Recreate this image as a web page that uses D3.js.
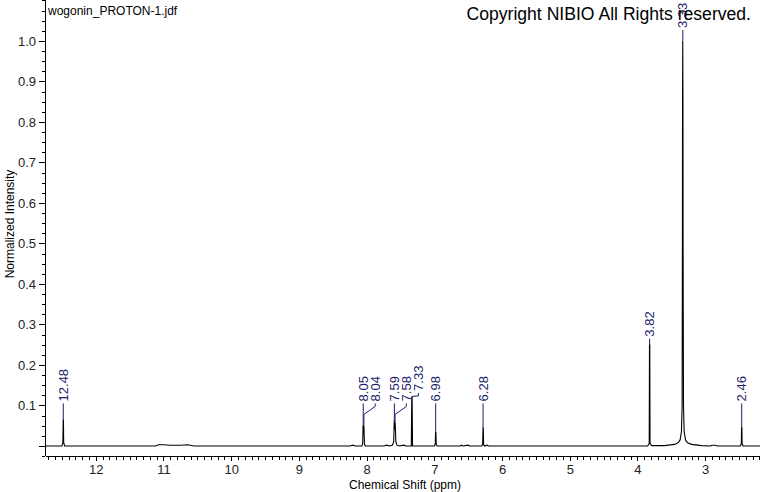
<!DOCTYPE html>
<html>
<head>
<meta charset="utf-8">
<script src="https://cdn.jsdelivr.net/npm/d3@7"></script>
<style>
  body { margin: 0; background: #fff; }
  svg { display: block; font-family: "Liberation Sans", Arial, sans-serif; }
</style>
</head>
<body>
<div id="plot"></div>
<script>
// spectrum: [ppm, normalized intensity]
var spectrum = [
    [12.75, 0], [12.50, 0], [12.486, 0.008], [12.481, 0.064], [12.478, 0.064], [12.474, 0.008], [12.46, 0],
    [11.12, 0], [11.07, 0.003], [11.0, 0.003], [10.9, 0.002], [10.75, 0.002], [10.65, 0.003], [10.6, 0.002], [10.55, 0],
    [8.25, 0], [8.2, 0.002], [8.17, 0], [8.07, 0], [8.058, 0.006], [8.052, 0.052], [8.046, 0.03], [8.040, 0.05], [8.032, 0.005], [8.02, 0],
    [7.75, 0], [7.70, 0.002], [7.66, 0], [7.62, 0.002], [7.60, 0.01], [7.592, 0.064], [7.585, 0.04], [7.578, 0.058], [7.568, 0.01], [7.55, 0.002], [7.52, 0],
    [7.45, 0.002], [7.42, 0], [7.34, 0], [7.333, 0.12], [7.328, 0.12], [7.322, 0], [7.2, 0],
    [7.0, 0], [6.986, 0.004], [6.981, 0.034], [6.977, 0.034], [6.972, 0.004], [6.96, 0],
    [6.62, 0], [6.6, 0.002], [6.58, 0], [6.5, 0.002], [6.48, 0],
    [6.30, 0], [6.286, 0.004], [6.281, 0.044], [6.277, 0.044], [6.272, 0.004], [6.26, 0], [6.22, 0.002], [6.2, 0],
    [3.85, 0], [3.826, 0.006], [3.822, 0.25], [3.818, 0.25], [3.814, 0.006], [3.79, 0.001],
    [3.6, 0.001], [3.45, 0.004], [3.4, 0.008], [3.37, 0.015], [3.35, 0.035], [3.34, 0.1],
    [3.336, 0.5], [3.334, 0.85], [3.331, 1.0], [3.328, 0.85], [3.326, 0.5], [3.32, 0.1],
    [3.31, 0.035], [3.29, 0.015], [3.26, 0.008], [3.2, 0.004], [3.05, 0.001],
    [2.92, 0], [2.9, 0.002], [2.85, 0.002], [2.82, 0],
    [2.48, 0], [2.466, 0.006], [2.462, 0.045], [2.458, 0.045], [2.454, 0.006], [2.44, 0],
    [2.19, 0]
];

// labelled peaks
var peakLabels = [12.48, 8.05, 8.04, 7.59, 7.58, 7.33, 6.98, 6.28, 3.82, 3.33, 2.46];

// axis ticks
var xMajorTicks = [12, 11, 10, 9, 8, 7, 6, 5, 4, 3];
var xMinorTicks = d3.range(127, 21, -1).map(function (v) { return v / 10; });
var yMajorTicks = [0, 0.1, 0.2, 0.3, 0.4, 0.5, 0.6, 0.7, 0.8, 0.9, 1.0];
var yMinorTicks = d3.range(-1, 45).map(function (v) { return v * 0.025; });

var fileName = "wogonin_PROTON-1.jdf";
var copyright = "Copyright NIBIO All Rights reserved.";

var W = 760, H = 492;
var ink = "#000", labelInk = "#1c1c6a";

var svg = d3.select("#plot").append("svg")
    .attr("width", W)
    .attr("height", H);

svg.append("rect").attr("width", W).attr("height", H).attr("fill", "#fff");

var x = d3.scaleLinear().domain([12.75, 2.19]).range([45, 760]);
var y = d3.scaleLinear().domain([-0.0247, 1.101]).range([456, 0]);

// x axis
svg.append("g")
    .attr("transform", "translate(0,456)")
    .call(d3.axisBottom(x).tickValues(xMinorTicks).tickSize(4).tickSizeOuter(0).tickFormat(""));
var xMajor = svg.append("g")
    .attr("transform", "translate(0,456)")
    .call(d3.axisBottom(x).tickValues(xMajorTicks).tickSize(5).tickSizeOuter(0).tickPadding(4).tickFormat(d3.format("d")));
xMajor.select(".domain").remove();

// y axis
var yMinor = svg.append("g")
    .attr("transform", "translate(45,0)")
    .call(d3.axisLeft(y).tickValues(yMinorTicks).tickSize(3).tickSizeOuter(0).tickFormat(""));
yMinor.select(".domain").attr("d", "M0,0V456");
var yMajor = svg.append("g")
    .attr("transform", "translate(45,0)")
    .call(d3.axisLeft(y).tickValues(yMajorTicks).tickSize(6).tickSizeOuter(0)
        .tickFormat(function (d) { return d === 0 ? "" : d3.format(".1f")(d); }));
yMajor.select(".domain").remove();

svg.selectAll(".tick text")
    .attr("font-family", "Liberation Sans, Arial, sans-serif")
    .attr("font-size", 13)
    .attr("fill", "#222");
svg.selectAll(".domain, .tick line").attr("stroke", ink).attr("shape-rendering", "crispEdges");

// spectrum trace
var line = d3.line()
    .x(function (d) { return x(d[0]); })
    .y(function (d) { return y(d[1]); });

svg.append("path")
    .datum(spectrum)
    .attr("d", line)
    .attr("fill", "none")
    .attr("stroke", ink)
    .attr("stroke-width", 1.1);

// peak labels with leaders
function peakHeight(ppm) {
    var best = spectrum[0];
    spectrum.forEach(function (p) {
        if (Math.abs(p[0] - ppm) < Math.abs(best[0] - ppm) ||
            (Math.abs(p[0] - ppm) === Math.abs(best[0] - ppm) && p[1] > best[1])) best = p;
    });
    return best[1];
}

var prevX = -Infinity;
var labels = peakLabels.map(function (ppm) {
    var h = peakHeight(ppm);
    var px = x(ppm);
    var top = y(h);
    var lx = Math.max(px, prevX + 12);
    prevX = lx;
    // keep the label inside the picture at the top
    var bottom = Math.max(28, Math.min(y(h * 1.03) - 5, y(0.11)));
    return { ppm: ppm, px: px, top: top, lx: lx, bottom: bottom };
});

var leaders = svg.append("g").attr("class", "leaders");
labels.forEach(function (d) {
    var pts;
    if (d.lx - d.px < 0.5) {
        pts = [[d.px, d.bottom + 2], [d.px, d.top]];
    } else {
        var bend = Math.min(d.bottom + 13, d.top - 1);
        pts = [[d.lx, d.bottom + 2], [d.lx, d.bottom + 5], [d.px, bend], [d.px, d.top]];
    }
    leaders.append("path")
        .attr("d", d3.line()(pts))
        .attr("fill", "none")
        .attr("stroke", labelInk)
        .attr("stroke-width", 1);
});

svg.append("g").attr("class", "peak-labels")
    .selectAll("text")
    .data(labels)
    .enter()
    .append("text")
    .attr("transform", function (d) { return "translate(" + d.lx + "," + d.bottom + ") rotate(-90)"; })
    .attr("dy", "0.35em")
    .attr("font-size", 13)
    .attr("fill", labelInk)
    .text(function (d) { return d.ppm.toFixed(2); });

// titles
svg.append("text")
    .attr("x", 48).attr("y", 15)
    .attr("font-size", 12)
    .attr("fill", ink)
    .text(fileName);

svg.append("text")
    .attr("x", 751).attr("y", 20)
    .attr("text-anchor", "end")
    .attr("font-size", 17.6)
    .attr("fill", ink)
    .text(copyright);

svg.append("text")
    .attr("x", 405).attr("y", 489)
    .attr("text-anchor", "middle")
    .attr("font-size", 12)
    .attr("fill", ink)
    .text("Chemical Shift (ppm)");

svg.append("text")
    .attr("transform", "translate(14,224) rotate(-90)")
    .attr("text-anchor", "middle")
    .attr("font-size", 12)
    .attr("fill", ink)
    .text("Normalized Intensity");
</script>
</body>
</html>
